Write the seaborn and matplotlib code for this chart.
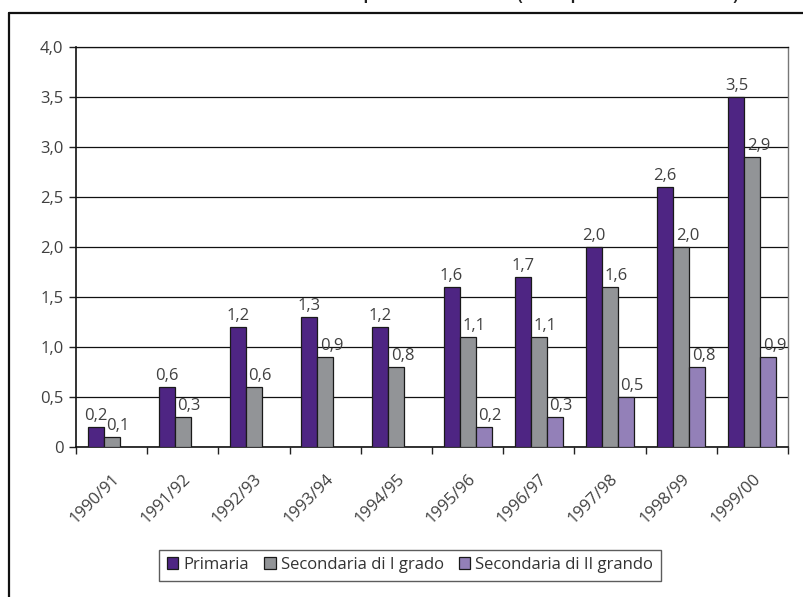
import numpy as np
import pandas as pd
import matplotlib
matplotlib.use("Agg")
import matplotlib.pyplot as plt
from matplotlib.lines import Line2D
from matplotlib.ticker import FixedLocator
import seaborn as sns

# Data
years = ["1990/91", "1991/92", "1992/93", "1993/94", "1994/95",
         "1995/96", "1996/97", "1997/98", "1998/99", "1999/00"]
primaria = [0.2, 0.6, 1.2, 1.3, 1.2, 1.6, 1.7, 2.0, 2.6, 3.5]
secondaria_1 = [0.1, 0.3, 0.6, 0.9, 0.8, 1.1, 1.1, 1.6, 2.0, 2.9]
secondaria_2 = [np.nan, np.nan, np.nan, np.nan, np.nan, 0.2, 0.3, 0.5, 0.8, 0.9]
series_names = ["Primaria", "Secondaria di I grado", "Secondaria di II grando"]
colors = ["#4e2583", "#929497", "#9380b8"]
y_ticks = [0, 0.5, 1.0, 1.5, 2.0, 2.5, 3.0, 3.5, 4.0]

df = pd.DataFrame({
    "anno": years * 3,
    "serie": [series_names[0]] * 10 + [series_names[1]] * 10 + [series_names[2]] * 10,
    "valore": primaria + secondaria_1 + secondaria_2,
})

sns.set_theme(style="white")
plt.rcParams["font.family"] = ["Open Sans", "DejaVu Sans"]

fig = plt.figure(figsize=(8.04, 5.97), dpi=100)
ax = fig.add_axes([76 / 804, 1 - 447 / 597, (788 - 76) / 804, 400 / 597])

sns.barplot(data=df, x="anno", y="valore", hue="serie", order=years,
            hue_order=series_names, palette=colors, width=0.675,
            edgecolor="#1a1a1a", linewidth=0.9, saturation=1,
            errorbar=None, ax=ax, zorder=3)

def fmt(v):
    return ("%.1f" % v).replace(".", ",")

# Value labels: the secondary-school series sit a little to the right
label_dx = [0.0, 4.5, 4.5]
for cont, dx in zip(ax.containers, label_dx):
    for rect, v in zip(cont.patches, cont.datavalues):
        if np.isnan(v):
            continue
        ax.annotate(fmt(v), (rect.get_x() + rect.get_width() / 2, rect.get_height()),
                    xytext=(dx, 2), textcoords="offset points",
                    ha="center", va="bottom", fontsize=12, color="#404040")

ax.set_ylim(0, 4.0)
ax.set_xlim(-0.5, len(years) - 0.5)
ax.yaxis.set_major_locator(FixedLocator(y_ticks))
ax.set_yticklabels(["0" if t == 0 else fmt(t) for t in y_ticks],
                   fontsize=12, color="#404040")
ax.grid(axis="y", color="#111111", linewidth=0.9, zorder=0)
ax.set_axisbelow(True)

# Category labels under the groups, tick marks between the groups
ax.set_xticks(range(len(years)))
ax.set_xticklabels(years, rotation=45, ha="right", rotation_mode="anchor",
                   fontsize=12, color="#404040")
ax.tick_params(axis="x", which="major", length=0, pad=17)
ax.set_xticks(np.arange(-0.5, len(years)), minor=True)
ax.tick_params(axis="x", which="minor", length=5, width=1, color="#222222",
               direction="out", bottom=True)
ax.tick_params(axis="y", length=5, width=1, color="#222222", direction="out",
               left=True, pad=4)
ax.set_xlabel("")
ax.set_ylabel("")

for side in ["left", "bottom"]:
    ax.spines[side].set_color("#111111")
    ax.spines[side].set_linewidth(1.2)
ax.spines["top"].set_color("#111111")
ax.spines["top"].set_linewidth(0.9)
ax.spines["right"].set_color("#777777")
ax.spines["right"].set_linewidth(1.0)

ax.get_legend().remove()
handles = [plt.Rectangle((0, 0), 1, 1, facecolor=c, edgecolor="#1a1a1a", linewidth=0.9)
           for c in colors]
leg = fig.legend(handles, series_names, loc="center",
                 bbox_to_anchor=(410 / 804, 1 - 565 / 597), ncol=3,
                 fontsize=12, frameon=True, fancybox=False,
                 handlelength=0.7, handleheight=0.7, handletextpad=0.3,
                 columnspacing=0.9, borderpad=0.45, labelcolor="#333333")
leg.get_frame().set_edgecolor("#333333")
leg.get_frame().set_linewidth(1.0)

# Outer frame of the chart area
x0 = 9 / 804
y1 = 1 - 13 / 597
fig.add_artist(Line2D([x0, x0], [0, y1], transform=fig.transFigure,
                      color="#111111", linewidth=1.6))
fig.add_artist(Line2D([x0, 1.0], [y1, y1], transform=fig.transFigure,
                      color="#111111", linewidth=1.6))

# Heading above the frame
fig.text(410 / 804, 1.0, "Alunni con cittadinanza non italiana per ordine di scuola "
         "(valori per 100 alunni iscritti)",
         ha="center", va="baseline", fontsize=11, fontweight="bold", color="#222222")

fig.savefig("out.png", dpi=100)
